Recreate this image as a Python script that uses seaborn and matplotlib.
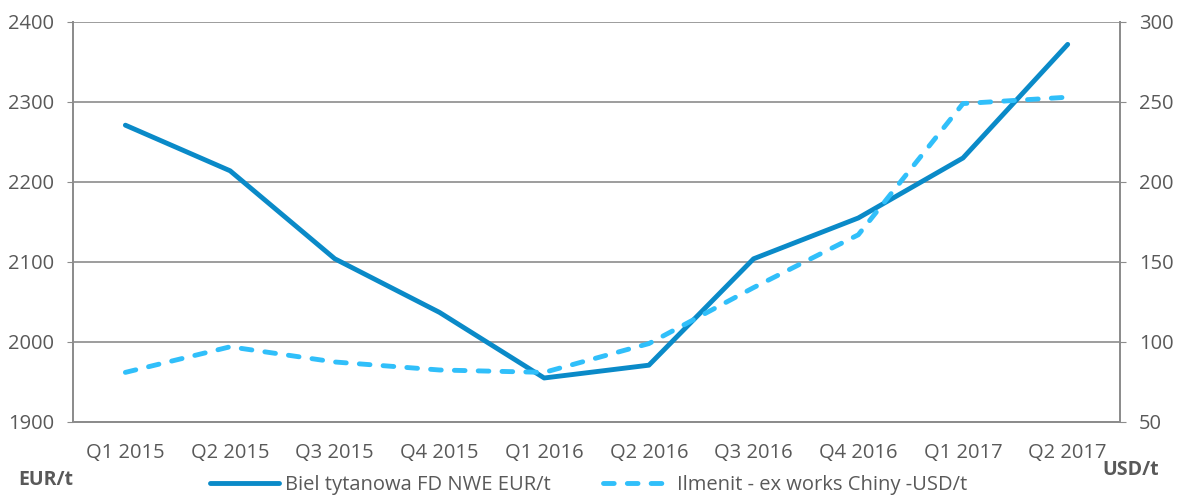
import pandas as pd
import matplotlib.pyplot as plt
import seaborn as sns

# data
quarters = ['Q1 2015', 'Q2 2015', 'Q3 2015', 'Q4 2015', 'Q1 2016',
            'Q2 2016', 'Q3 2016', 'Q4 2016', 'Q1 2017', 'Q2 2017']
biel_eur = [2271, 2214, 2104, 2037, 1955, 1971, 2104, 2155, 2230, 2372]
ilmenit_usd = [81, 97, 87.5, 82.5, 81, 99, 134, 167, 249, 253]

df = pd.DataFrame({'quarter': quarters, 'biel': biel_eur, 'ilmenit': ilmenit_usd})
df['pos'] = range(len(quarters))

sns.set_style('white')
plt.rcParams['font.family'] = ['Open Sans', 'DejaVu Sans']
text_col = '#595959'
grid_col = '#8c8c8c'
fs = 14.5

fig = plt.figure(figsize=(11.78, 4.95), dpi=100)
ax = fig.add_axes([0.062, 0.1475, 0.8888, 0.8081])
ax2 = ax.twinx()

sns.lineplot(data=df, x='pos', y='biel', ax=ax, color='#0A8AC8', linewidth=3.5,
             label='Biel tytanowa FD NWE EUR/t', legend=False, solid_capstyle='round')
sns.lineplot(data=df, x='pos', y='ilmenit', ax=ax2, color='#30BFFA', linewidth=3.5,
             label='Ilmenit - ex works Chiny -USD/t', legend=False)
dashed = ax2.lines[0]
dashed.set_dashes([2.2, 2.7])
dashed.set_dash_capstyle('round')
dashed.set_dash_joinstyle('round')

ax.set_xlim(-0.5, len(quarters) - 0.5)
ax.set_ylim(1900, 2400)
ax.set_yticks(range(1900, 2401, 100))
ax2.set_ylim(50, 300)
ax2.set_yticks(range(50, 301, 50))

# category labels centered, ticks on the boundaries
ax.set_xticks(df['pos'])
ax.set_xticklabels(quarters)
ax.set_xticks([i + 0.5 for i in range(-1, len(quarters))], minor=True)
ax.tick_params(axis='x', which='major', length=0, pad=15, labelsize=fs, labelcolor=text_col)
ax.tick_params(axis='x', which='minor', length=4.5, color=grid_col, direction='out')
ax.tick_params(axis='y', length=4.5, color=grid_col, direction='out', labelsize=fs,
               labelcolor=text_col, pad=9)
ax2.tick_params(axis='y', length=4.5, color=grid_col, direction='out', labelsize=fs,
                labelcolor=text_col, pad=9)

ax.set_xlabel('')
ax.set_ylabel('')
ax2.set_ylabel('')
ax.grid(axis='y', color=grid_col, linewidth=1.2)
ax.set_axisbelow(True)

for a in (ax, ax2):
    a.spines['top'].set_visible(False)
    for s in ('left', 'right', 'bottom'):
        a.spines[s].set_color(grid_col)
        a.spines[s].set_linewidth(1.3)

fig.text(0.0153, 0.02, 'EUR/t', fontsize=14, fontweight='bold', color=text_col)
fig.text(0.936, 0.04, 'USD/t', fontsize=14, fontweight='bold', color=text_col)

h1, l1 = ax.get_legend_handles_labels()
h2, l2 = ax2.get_legend_handles_labels()
fig.legend(h1 + h2, l1 + l2, loc='center', bbox_to_anchor=(0.5, 0.02), ncol=2,
           frameon=False, fontsize=fs, labelcolor=text_col, handlelength=3.4,
           columnspacing=2.6, handletextpad=0.3, borderpad=0)

fig.savefig('out.png', dpi=100)
